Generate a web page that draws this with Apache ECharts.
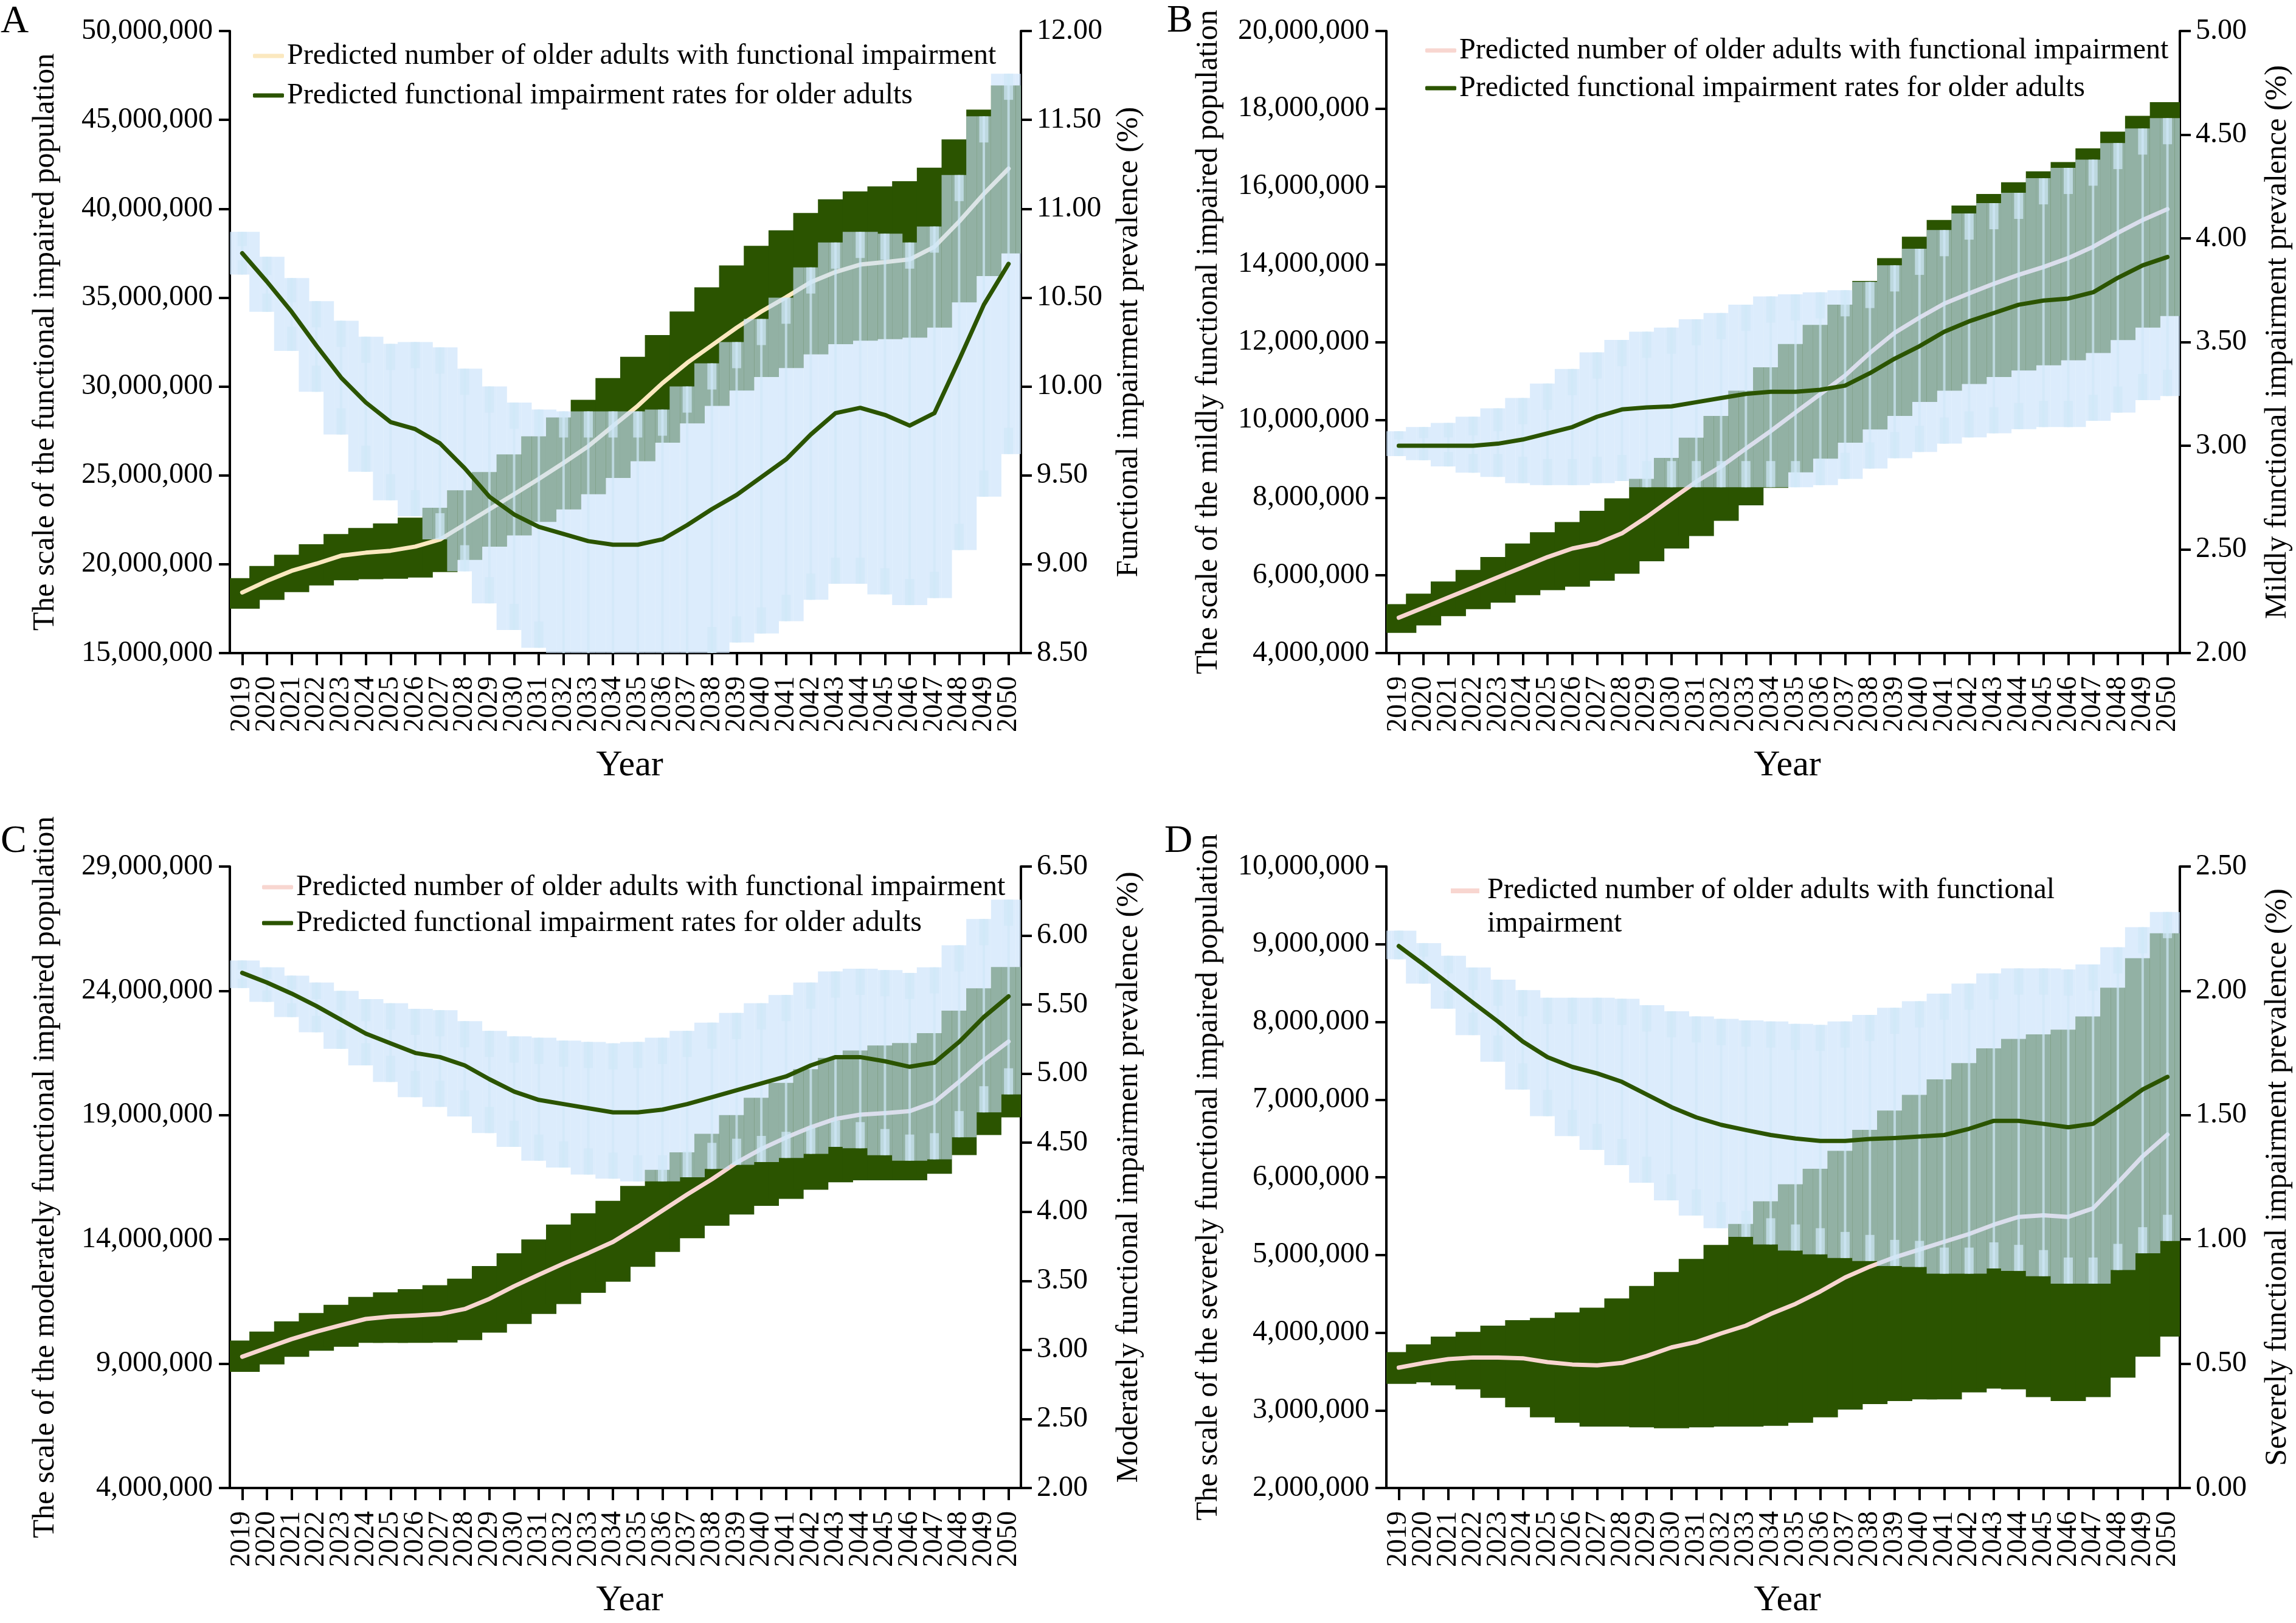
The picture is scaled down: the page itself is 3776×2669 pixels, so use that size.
<!DOCTYPE html>
<html><head><meta charset="utf-8">
<script src="https://cdn.jsdelivr.net/npm/echarts@6/dist/echarts.min.js"></script>
<style>html,body{margin:0;padding:0;background:#fff}#c{width:3776px;height:2669px}</style>
</head><body><div id="c"></div>
<script>
// ---------- categories ----------
const years = ['2019','2020','2021','2022','2023','2024','2025','2026','2027','2028','2029','2030','2031','2032','2033','2034','2035','2036','2037','2038','2039','2040','2041','2042','2043','2044','2045','2046','2047','2048','2049','2050'];

// ---------- Panel A (population in millions, rate in %) ----------
const popA   = [18.41,19.06,19.63,20.03,20.48,20.65,20.76,20.99,21.39,22.24,23.09,23.94,24.80,25.70,26.64,27.78,28.91,30.19,31.33,32.32,33.31,34.22,35.02,35.87,36.44,36.86,37.00,37.15,37.86,39.28,40.84,42.26];
const popLoA = [17.50,17.99,18.43,18.81,19.10,19.16,19.18,19.25,19.56,20.24,20.99,21.62,22.38,23.08,23.94,24.85,25.79,26.84,27.92,28.91,29.77,30.53,31.04,31.81,32.38,32.58,32.66,32.75,33.31,34.73,36.21,37.49];
const popHiA = [19.22,19.90,20.53,21.12,21.70,22.04,22.30,22.62,23.18,24.16,25.19,26.18,27.20,28.26,29.25,30.47,31.67,32.89,34.22,35.58,36.81,37.91,38.79,39.76,40.53,40.98,41.26,41.55,42.31,43.90,45.58,46.94];
const rateA   = [10.75,10.59,10.42,10.23,10.05,9.91,9.80,9.76,9.68,9.54,9.38,9.28,9.21,9.17,9.13,9.11,9.11,9.14,9.22,9.31,9.39,9.49,9.59,9.73,9.85,9.88,9.84,9.78,9.85,10.15,10.46,10.69];
const rateLoA = [10.63,10.42,10.20,9.97,9.73,9.52,9.36,9.27,9.14,8.96,8.78,8.63,8.53,8.48,8.40,8.36,8.36,8.41,8.44,8.50,8.56,8.61,8.68,8.80,8.89,8.89,8.83,8.77,8.81,9.08,9.38,9.62];
const rateHiA = [10.87,10.73,10.61,10.48,10.37,10.28,10.24,10.25,10.22,10.10,10.00,9.91,9.87,9.86,9.86,9.86,9.86,9.87,10.00,10.13,10.25,10.38,10.50,10.67,10.81,10.87,10.86,10.81,10.90,11.19,11.52,11.76];
const ticksAL = [15,20,25,30,35,40,45,50];
const ticksAR = [8.5,9,9.5,10,10.5,11,11.5,12];

// ---------- Panel B ----------
const popB   = [4.91,5.17,5.43,5.69,5.95,6.21,6.47,6.69,6.82,7.08,7.50,7.96,8.41,8.80,9.26,9.71,10.19,10.66,11.14,11.72,12.24,12.63,12.99,13.25,13.50,13.73,13.93,14.16,14.45,14.81,15.14,15.42];
const popLoB = [4.52,4.71,4.95,5.13,5.30,5.49,5.62,5.71,5.86,6.04,6.36,6.69,7.01,7.40,7.80,8.25,8.65,9.00,9.41,9.75,10.10,10.46,10.75,10.92,11.10,11.27,11.40,11.53,11.72,12.05,12.37,12.67];
const popHiB = [5.26,5.53,5.84,6.14,6.47,6.82,7.11,7.37,7.66,7.98,8.48,9.02,9.54,10.10,10.75,11.35,11.95,12.44,12.96,13.57,14.16,14.71,15.14,15.51,15.81,16.11,16.39,16.63,16.98,17.41,17.82,18.17];
const rateB   = [3.00,3.00,3.00,3.00,3.01,3.03,3.06,3.09,3.14,3.175,3.185,3.19,3.21,3.23,3.25,3.26,3.26,3.27,3.29,3.35,3.42,3.48,3.55,3.60,3.64,3.68,3.70,3.71,3.74,3.81,3.87,3.91];
const rateLoB = [2.95,2.93,2.90,2.87,2.85,2.82,2.81,2.81,2.82,2.83,2.80,2.80,2.80,2.80,2.80,2.80,2.80,2.81,2.84,2.89,2.94,2.97,3.01,3.04,3.06,3.08,3.09,3.09,3.12,3.16,3.22,3.24];
const rateHiB = [3.07,3.09,3.11,3.14,3.18,3.23,3.30,3.37,3.45,3.51,3.55,3.57,3.61,3.64,3.68,3.72,3.73,3.74,3.75,3.79,3.87,3.95,4.04,4.12,4.17,4.22,4.29,4.34,4.38,4.46,4.53,4.58];
const ticksBL = [4,6,8,10,12,14,16,18,20];
const ticksBR = [2,2.5,3,3.5,4,4.5,5];

// ---------- Panel C ----------
const popC   = [9.28,9.64,9.99,10.29,10.55,10.80,10.90,10.94,11.00,11.20,11.61,12.12,12.58,13.03,13.45,13.90,14.51,15.16,15.81,16.42,17.09,17.64,18.10,18.51,18.85,19.02,19.08,19.16,19.52,20.34,21.21,21.96];
const popLoC = [8.67,8.97,9.28,9.52,9.68,9.84,9.84,9.84,9.85,9.95,10.25,10.60,11.00,11.40,11.85,12.30,12.90,13.50,14.05,14.55,15.00,15.35,15.63,16.00,16.30,16.38,16.38,16.38,16.64,17.39,18.20,18.91];
const popHiC = [9.93,10.29,10.70,11.04,11.37,11.69,11.87,12.00,12.16,12.42,12.93,13.44,14.00,14.60,15.05,15.55,16.15,16.80,17.50,18.25,19.00,19.70,20.30,20.85,21.30,21.60,21.80,21.90,22.30,23.20,24.10,24.96];
const rateC   = [5.73,5.66,5.58,5.49,5.39,5.29,5.22,5.15,5.12,5.06,4.96,4.87,4.81,4.78,4.75,4.72,4.72,4.74,4.78,4.83,4.88,4.93,4.98,5.06,5.12,5.12,5.09,5.05,5.08,5.23,5.41,5.56];
const rateLoC = [5.62,5.52,5.41,5.30,5.18,5.06,4.94,4.83,4.76,4.69,4.57,4.47,4.37,4.32,4.27,4.24,4.22,4.22,4.25,4.31,4.34,4.36,4.39,4.42,4.47,4.46,4.41,4.37,4.38,4.54,4.72,4.85];
const rateHiC = [5.82,5.77,5.71,5.66,5.60,5.54,5.51,5.47,5.46,5.38,5.31,5.27,5.26,5.24,5.23,5.22,5.23,5.26,5.31,5.37,5.44,5.51,5.57,5.66,5.74,5.76,5.75,5.73,5.77,5.93,6.12,6.26];
const ticksCL = [4,9,14,19,24,29];
const ticksCR = [2,2.5,3,3.5,4,4.5,5,5.5,6,6.5];

// ---------- Panel D ----------
const popD   = [3.55,3.61,3.66,3.68,3.68,3.67,3.62,3.59,3.58,3.61,3.70,3.81,3.88,3.99,4.09,4.24,4.37,4.53,4.71,4.85,4.97,5.07,5.17,5.27,5.39,5.49,5.51,5.49,5.60,5.93,6.27,6.55];
const popLoD = [3.34,3.36,3.32,3.27,3.16,3.04,2.91,2.84,2.79,2.79,2.78,2.77,2.78,2.79,2.79,2.80,2.84,2.91,3.01,3.08,3.12,3.14,3.14,3.23,3.28,3.27,3.17,3.12,3.17,3.42,3.69,3.95];
const popHiD = [3.75,3.85,3.95,4.01,4.09,4.16,4.19,4.26,4.32,4.44,4.60,4.78,4.95,5.13,5.40,5.69,5.91,6.11,6.34,6.61,6.86,7.06,7.26,7.47,7.66,7.78,7.84,7.90,8.07,8.44,8.82,9.14];
const rateD   = [2.18,2.106,2.029,1.952,1.877,1.796,1.733,1.694,1.668,1.634,1.583,1.532,1.491,1.461,1.44,1.42,1.406,1.396,1.396,1.404,1.408,1.414,1.42,1.445,1.477,1.477,1.465,1.451,1.465,1.532,1.603,1.654];
const rateLoD = [2.127,2.029,1.928,1.822,1.715,1.603,1.496,1.416,1.360,1.299,1.228,1.157,1.096,1.045,1.010,0.980,0.955,0.940,0.925,0.913,0.893,0.889,0.862,0.862,0.883,0.873,0.852,0.822,0.822,0.877,0.944,0.994];
const rateHiD = [2.242,2.192,2.141,2.094,2.045,2.003,1.972,1.972,1.972,1.968,1.942,1.918,1.897,1.887,1.881,1.877,1.867,1.863,1.877,1.903,1.932,1.958,1.989,2.029,2.070,2.090,2.090,2.086,2.106,2.175,2.256,2.317];
const ticksDL = [2,3,4,5,6,7,8,9,10];
const ticksDR = [0,0.5,1,1.5,2,2.5];

// ---------- names ----------
const NAME_POP = 'Predicted number of older adults with functional impairment';
const NAME_RATE = 'Predicted functional impairment rates for older adults';

// ---------- styling ----------
const FONT = 'Liberation Serif';
const GREEN = '#2b5400';
const BLUE = 'rgba(201,226,250,0.655)';
const WHISK = 'rgba(208,232,248,0.7)';
const BAR_FACTOR = 1.42;

const panels = [
  {letter:'A', lx:1, ly:4, grid:{left:378, top:51, width:1301, height:1023},
   lmin:15, lmax:50, lt:ticksAL, rmin:8.5, rmax:12, rt:ticksAR,
   pop:popA, plo:popLoA, phi:popHiA, rate:rateA, rlo:rateLoA, rhi:rateHiA, popColor:'#fbe8bf',
   lname:'The scale of the functional impaired population', rname:'Functional impairment prevalence (%)',
   lgap:278, rgap:153, leg:{left:411, top:62, gap:15, two:true}},
  {letter:'B', lx:1919, ly:3, grid:{left:2280, top:51, width:1305, height:1023},
   lmin:4, lmax:20, lt:ticksBL, rmin:2, rmax:5, rt:ticksBR,
   pop:popB, plo:popLoB, phi:popHiB, rate:rateB, rlo:rateLoB, rhi:rateHiB, popColor:'#f8d6d0',
   lname:'The scale of the mildly functional impaired population', rname:'Mildly functional impairment prevalence (%)',
   lgap:267, rgap:136, leg:{left:2339, top:53, gap:12, two:true}},
  {letter:'C', lx:1, ly:1352, grid:{left:378, top:1425, width:1301, height:1022},
   lmin:4, lmax:29, lt:ticksCL, rmin:2, rmax:6.5, rt:ticksCR,
   pop:popC, plo:popLoC, phi:popHiC, rate:rateC, rlo:rateLoC, rhi:rateHiC, popColor:'#f8d6d0',
   lname:'The scale of the moderately functional impaired population', rname:'Moderately functional impairment prevalence (%)',
   lgap:278, rgap:153, leg:{left:426, top:1429, gap:9, two:true}},
  {letter:'D', lx:1915, ly:1352, grid:{left:2280, top:1425, width:1305, height:1022},
   lmin:2, lmax:10, lt:ticksDL, rmin:0, rmax:2.5, rt:ticksDR,
   pop:popD, plo:popLoD, phi:popHiD, rate:rateD, rlo:rateLoD, rhi:rateHiD, popColor:'#f8d6d0',
   lname:'The scale of the severely functional impaired population', rname:'Severely functional impairment prevalence (%)',
   lgap:267, rgap:136, leg:{left:2381, top:1432, gap:10, two:false}}
];

function fmtInt(v){ return String(Math.round(v*1e6)).replace(/\B(?=(\d{3})+(?!\d))/g, ','); }

function clampRect(x0, x1, y0, y1, cs){
  x0 = Math.max(x0, cs.x); x1 = Math.min(x1, cs.x+cs.width);
  y0 = Math.max(y0, cs.y); y1 = Math.min(y1, cs.y+cs.height);
  if (x1 <= x0 || y1 <= y0) return null;
  return {x:x0, y:y0, width:x1-x0, height:y1-y0};
}

// Opaque floating range bars (population uncertainty)
function rangeRender(fill){
  return function(params, api){
    const k = api.value(0);
    const pt = api.coord([k, api.value(2)]);
    const pb = api.coord([k, api.value(1)]);
    const w = api.size([1,0])[0]*BAR_FACTOR;
    const r = clampRect(pt[0]-w/2, pt[0]+w/2, pt[1], pb[1], params.coordSys);
    return r ? {type:'rect', shape:r, style:{fill:fill}} : null;
  };
}

// Translucent floating range bars drawn as their union (no double alpha where neighbours overlap)
function unionRender(lo, hi, fill){
  return function(params, api){
    const k = api.value(0);
    const n = lo.length;
    const cs = params.coordSys;
    const b = api.size([1,0])[0];
    const h = b*BAR_FACTOR/2, m = b - h;
    const c = api.coord([k, lo[k]])[0];
    const y = (v) => api.coord([k, v])[1];
    const own = [[lo[k], hi[k]]];
    const segs = [];
    if (k === 0) segs.push([c-h, c-m, own]);
    segs.push([c-m, c+m, own]);
    if (k < n-1){
      const a0 = lo[k], a1 = hi[k], b0 = lo[k+1], b1 = hi[k+1];
      const ranges = (Math.max(a0,b0) <= Math.min(a1,b1)) ? [[Math.min(a0,b0), Math.max(a1,b1)]] : [[a0,a1],[b0,b1]];
      segs.push([c+m, c+h, ranges]);
    } else {
      segs.push([c+m, c+h, own]);
    }
    const children = [];
    segs.forEach(s => s[2].forEach(rg => {
      const r = clampRect(s[0], s[1], y(rg[1]), y(rg[0]), cs);
      if (r) children.push({type:'rect', shape:r, style:{fill:fill}});
    }));
    // whisker and caps
    const yt = y(hi[k]), yb = y(lo[k]);
    const capW = 15, capH = Math.min(43, (yb-yt)/3);
    const wl = clampRect(c-2, c+2, yt, yb, cs);
    if (wl) children.push({type:'rect', shape:wl, style:{fill:WHISK}});
    const ct = clampRect(c-capW/2, c+capW/2, yt, yt+capH, cs);
    if (ct && yt >= cs.y) children.push({type:'rect', shape:ct, style:{fill:WHISK}});
    const cb = clampRect(c-capW/2, c+capW/2, yb-capH, yb, cs);
    if (cb && yb <= cs.y+cs.height) children.push({type:'rect', shape:cb, style:{fill:WHISK}});
    return {type:'group', children:children};
  };
}

const axisLine = {show:true, onZero:false, lineStyle:{color:'#000', width:4}};
const grids=[], xAxes=[], yAxes=[], series=[], legends=[], graphics=[];

panels.forEach((p, i) => {
  grids.push(Object.assign({containLabel:false, outerBoundsMode:'none'}, p.grid));
  xAxes.push({type:'category', gridIndex:i, data:years, boundaryGap:true,
    axisLine:axisLine,
    axisTick:{show:true, alignWithLabel:true, interval:0, length:20, lineStyle:{color:'#000', width:4}},
    axisLabel:{interval:0, rotate:90, margin:38, fontSize:46, fontFamily:FONT, color:'#000'},
    splitLine:{show:false},
    name:'Year', nameLocation:'middle', nameGap:155, nameMoveOverlap:false,
    nameTextStyle:{fontSize:60, fontFamily:FONT, color:'#000', padding:[0,0,0,14]}});
  yAxes.push({type:'value', gridIndex:i, position:'left', min:p.lmin, max:p.lmax,
    axisLine:axisLine,
    axisTick:{show:true, length:18, customValues:p.lt, lineStyle:{color:'#000', width:4}},
    axisLabel:{customValues:p.lt, margin:28, fontSize:48, fontFamily:FONT, color:'#000', formatter:fmtInt},
    splitLine:{show:false},
    name:p.lname, nameLocation:'middle', nameGap:p.lgap, nameRotate:90, nameMoveOverlap:false,
    nameTextStyle:{fontSize:50, fontFamily:FONT, color:'#000'}});
  yAxes.push({type:'value', gridIndex:i, position:'right', min:p.rmin, max:p.rmax,
    axisLine:axisLine,
    axisTick:{show:true, length:18, customValues:p.rt, lineStyle:{color:'#000', width:4}},
    axisLabel:{customValues:p.rt, margin:26, fontSize:48, fontFamily:FONT, color:'#000', formatter:(v)=>Number(v).toFixed(2)},
    splitLine:{show:false},
    name:p.rname, nameLocation:'middle', nameGap:p.rgap, nameRotate:90, nameMoveOverlap:false,
    nameTextStyle:{fontSize:50, fontFamily:FONT, color:'#000'}});

  series.push({type:'custom', name:'popRange'+p.letter, xAxisIndex:i, yAxisIndex:2*i, z:2, silent:true,
    renderItem:rangeRender(GREEN), encode:{x:0, y:[1,2]},
    data:years.map((y,k)=>[k, p.plo[k], p.phi[k]])});
  series.push({type:'line', name:NAME_POP, xAxisIndex:i, yAxisIndex:2*i, z:3, silent:true,
    data:p.pop, symbol:'none', smooth:false,
    lineStyle:{color:p.popColor, width:7, cap:'round', join:'round'}, itemStyle:{color:p.popColor}});
  series.push({type:'custom', name:'rateRange'+p.letter, xAxisIndex:i, yAxisIndex:2*i+1, z:4, silent:true,
    renderItem:unionRender(p.rlo, p.rhi, BLUE), encode:{x:0, y:[1,2]},
    data:years.map((y,k)=>[k, p.rlo[k], p.rhi[k]])});
  series.push({type:'line', name:NAME_RATE, xAxisIndex:i, yAxisIndex:2*i+1, z:5, silent:true,
    data:p.rate, symbol:'none', smooth:false,
    lineStyle:{color:GREEN, width:7, cap:'round', join:'round'}, itemStyle:{color:GREEN}});

  if (p.leg.two){
    legends.push({orient:'vertical', left:p.leg.left, top:p.leg.top, itemGap:p.leg.gap,
      icon:'roundRect', itemWidth:51, itemHeight:7, selectedMode:false,
      textStyle:{fontSize:48, fontFamily:FONT, color:'#000', lineHeight:50},
      data:[{name:NAME_POP, itemStyle:{color:p.popColor}}, {name:NAME_RATE, itemStyle:{color:GREEN}}]});
  } else {
    legends.push({orient:'vertical', left:p.leg.left, top:p.leg.top,
      icon:'path://M0 0H47V8H0Z M0 62H0.1V62.1H0Z', itemWidth:47, itemHeight:62, selectedMode:false,
      formatter:(n)=>n.replace(' impairment', '\nimpairment'),
      textStyle:{fontSize:48, fontFamily:FONT, color:'#000', lineHeight:55, padding:[0,0,0,8]},
      data:[{name:NAME_POP, itemStyle:{color:p.popColor}}]});
  }
  graphics.push({type:'text', left:p.lx, top:p.ly, style:{text:p.letter, font:'64px "Liberation Serif"', fill:'#000'}});
});

const chart = echarts.init(document.getElementById('c'), null, {renderer:'canvas', width:3776, height:2669});
chart.setOption({
  animation:false,
  backgroundColor:'#fff',
  textStyle:{fontFamily:FONT},
  grid:grids, xAxis:xAxes, yAxis:yAxes, series:series, legend:legends, graphic:graphics
});
</script>
</body></html>
